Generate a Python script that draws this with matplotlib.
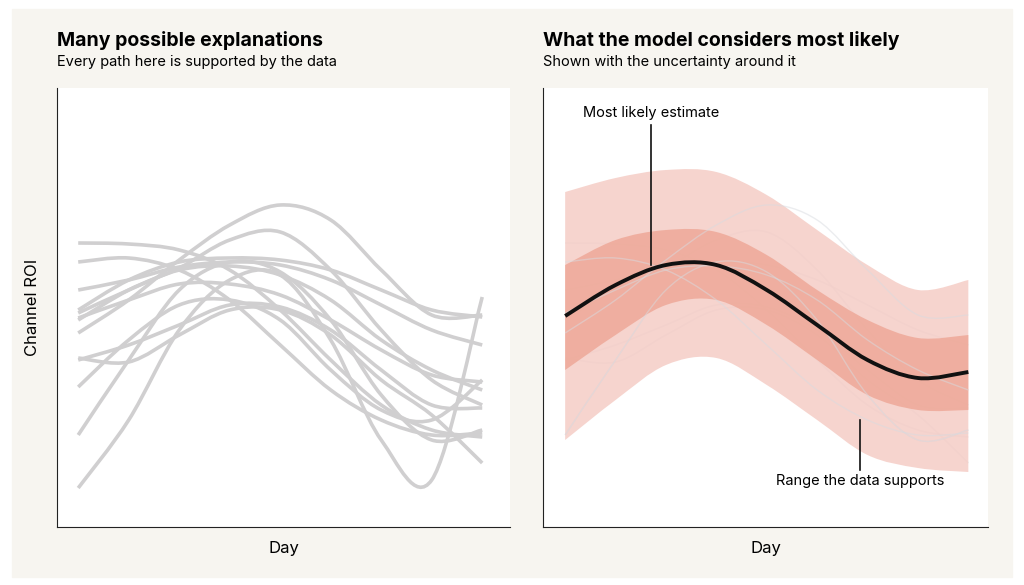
import matplotlib.pyplot as plt
from matplotlib.patches import Rectangle, PathPatch
from matplotlib.path import Path

plt.rcParams["font.family"] = ["Inter", "DejaVu Sans"]

# values (0-100 scale, day index 0..8)
def v(px):
    return [(527 - p) / 4.39 for p in px]

days = list(range(9))
paths = [
    v([243, 244, 250, 270, 310, 360, 405, 430, 437]),
    v([262, 258, 270, 300, 345, 390, 420, 435, 433]),
    v([290, 280, 267, 262, 265, 280, 305, 330, 345]),
    v([310, 280, 262, 258, 260, 270, 290, 310, 317]),
    v([313, 290, 270, 266, 275, 300, 340, 370, 390]),
    v([318, 300, 284, 284, 295, 320, 350, 375, 382]),
    v([320, 290, 268, 240, 232, 270, 330, 380, 405]),
    v([333, 300, 260, 225, 205, 220, 270, 315, 315]),
    v([360, 345, 325, 305, 307, 330, 370, 405, 408]),
    v([387, 340, 305, 300, 320, 370, 410, 420, 380]),
    v([435, 360, 290, 262, 272, 320, 395, 440, 430]),
    v([488, 420, 330, 280, 275, 340, 440, 480, 297]),
    v([358, 362, 335, 310, 310, 335, 380, 415, 463]),
]
mean_est = v([316, 285, 265, 265, 290, 325, 360, 378, 372])
inner_hi = v([265, 240, 230, 232, 255, 290, 320, 338, 335])
inner_lo = v([370, 335, 305, 300, 325, 360, 395, 410, 410])
outer_hi = v([192, 178, 170, 172, 195, 230, 265, 290, 280])
outer_lo = v([440, 400, 365, 358, 385, 420, 455, 468, 472])


def bezier_segments(xs, ys):
    # Catmull-Rom through the points, expressed as cubic Bezier control points
    pts = list(zip(xs, ys))
    n = len(pts)
    verts = []
    for i in range(n - 1):
        p0 = pts[max(i - 1, 0)]
        p1 = pts[i]
        p2 = pts[i + 1]
        p3 = pts[min(i + 2, n - 1)]
        c1 = (p1[0] + (p2[0] - p0[0]) / 6, p1[1] + (p2[1] - p0[1]) / 6)
        c2 = (p2[0] - (p3[0] - p1[0]) / 6, p2[1] - (p3[1] - p1[1]) / 6)
        verts += [c1, c2, p2]
    return pts[0], verts


def curve(ax, xs, ys, **kw):
    start, verts = bezier_segments(xs, ys)
    codes = [Path.MOVETO] + [Path.CURVE4] * len(verts)
    ax.add_patch(PathPatch(Path([start] + verts, codes), fill=False, **kw))


def band(ax, xs, lo, hi, **kw):
    s1, v1 = bezier_segments(xs, hi)
    s2, v2 = bezier_segments(xs[::-1], lo[::-1])
    verts = [s1] + v1 + [s2] + v2 + [s1]
    codes = ([Path.MOVETO] + [Path.CURVE4] * len(v1) + [Path.LINETO]
             + [Path.CURVE4] * len(v2) + [Path.CLOSEPOLY])
    ax.add_patch(PathPatch(Path(verts, codes), lw=0, **kw))


fig = plt.figure(figsize=(10.24, 5.85), dpi=100, facecolor="white")
fig.patches.append(Rectangle((12 / 1024, 8 / 585), 1000 / 1024, 568 / 585,
                             transform=fig.transFigure, color="#f7f5f0", zorder=-1))

ax1 = fig.add_axes([57 / 1024, 58 / 585, 453 / 1024, 439 / 585])
ax2 = fig.add_axes([543 / 1024, 58 / 585, 445 / 1024, 439 / 585])

for ax in (ax1, ax2):
    ax.set_facecolor("white")
    for s in ["top", "right"]:
        ax.spines[s].set_visible(False)
    for s in ["left", "bottom"]:
        ax.spines[s].set_color("#222222")
    ax.set_xticks([])
    ax.set_yticks([])
    ax.set_ylim(0, 100)
    ax.set_xlabel("Day", fontsize=12, labelpad=10)

ax1.set_xlim(-0.42, 8.55)
ax2.set_xlim(-0.44, 8.39)
ax1.set_ylabel("Channel ROI", fontsize=12, labelpad=12)

for p in paths:
    curve(ax1, days, p, edgecolor="#d0cfd0", lw=2.6, capstyle="butt")

for p in paths[::2]:
    curve(ax2, days, p, edgecolor="#dcdfe3", lw=1.2, alpha=0.6)
band(ax2, days, outer_lo, outer_hi, facecolor="#f5cdc6", alpha=0.85)
band(ax2, days, inner_lo, inner_hi, facecolor="#eea898", alpha=0.85)
for p in paths[1::3]:
    curve(ax2, days, p, edgecolor="#d8dbe0", lw=1.0, alpha=0.5)
curve(ax2, days, mean_est, edgecolor="#111111", lw=2.8)

ax2.plot([1.71, 1.71], [(527 - 265) / 4.39, (527 - 125) / 4.39], color="#111111", lw=1.2)
ax2.text(1.71, (527 - 113) / 4.39, "Most likely estimate", ha="center", va="center", fontsize=10.5)
ax2.plot([5.85, 5.85], [(527 - 420) / 4.39, (527 - 470) / 4.39], color="#111111", lw=1.2)
ax2.text(5.85, (527 - 481) / 4.39, "Range the data supports", ha="center", va="center", fontsize=10.5)

fig.text(57 / 1024, 1 - 40 / 585, "Many possible explanations", fontsize=14, fontweight="bold", va="center")
fig.text(57 / 1024, 1 - 62 / 585, "Every path here is supported by the data", fontsize=10.5, va="center")
fig.text(543 / 1024, 1 - 40 / 585, "What the model considers most likely", fontsize=14, fontweight="bold", va="center")
fig.text(543 / 1024, 1 - 62 / 585, "Shown with the uncertainty around it", fontsize=10.5, va="center")

fig.savefig("out.png", dpi=100, facecolor=fig.get_facecolor())
